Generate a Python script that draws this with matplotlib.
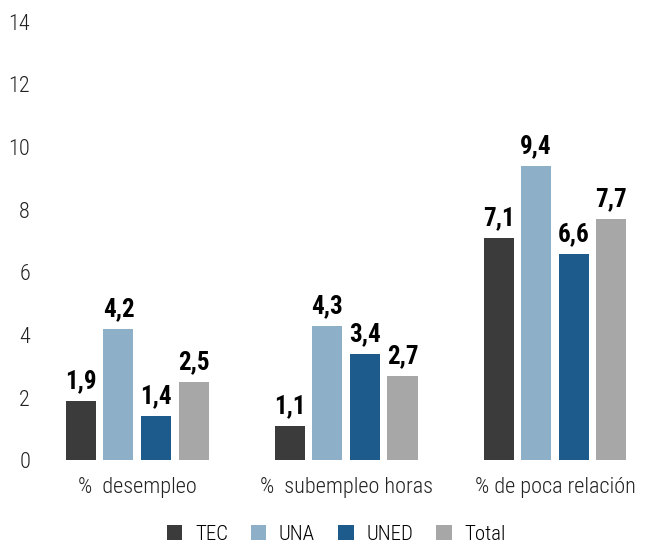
import matplotlib
matplotlib.use('Agg')
import matplotlib.pyplot as plt
from matplotlib import font_manager
import numpy as np

installed = {f.name for f in font_manager.fontManager.ttflist}
choices = [f for f in ['Roboto Condensed', 'Liberation Sans Narrow', 'Roboto'] if f in installed]
plt.rcParams['font.family'] = choices + ['DejaVu Sans']
plt.rcParams['font.weight'] = 'light'

categories = ['%  desempleo', '%  subempleo horas', '% de poca relación']
series = ['TEC', 'UNA', 'UNED', 'Total']
values = {
    'TEC': [1.9, 1.1, 7.1],
    'UNA': [4.2, 4.3, 9.4],
    'UNED': [1.4, 3.4, 6.6],
    'Total': [2.5, 2.7, 7.7],
}
colors = ['#3b3b3b', '#8dafc8', '#1c5b8b', '#a7a7a7']

fig = plt.figure(figsize=(6.48, 5.44), dpi=100)
ax = fig.add_axes([0.07, 0.154, 0.925, 0.806])

x = np.arange(len(categories))
step = 0.18
width = 0.144
for i, s in enumerate(series):
    pos = x + (i - 1.5) * step
    bars = ax.bar(pos, values[s], width, color=colors[i], label=s)
    for b, v in zip(bars, values[s]):
        ax.text(b.get_x() + b.get_width() / 2, v + 0.25, f'{v:.1f}'.replace('.', ','),
                ha='center', va='bottom', fontsize=18, fontweight='bold')

ax.set_ylim(0, 14)
ax.set_yticks(range(0, 15, 2))
ax.set_xlim(-0.44, 2.43)
ax.set_xticks(x)
ax.set_xticklabels(categories)
ax.tick_params(axis='both', length=0, labelsize=16, colors='#222222')
ax.tick_params(axis='y', pad=11)
ax.tick_params(axis='x', pad=12)
for sp in ax.spines.values():
    sp.set_visible(False)

ax.legend(loc='upper center', bbox_to_anchor=(0.485, -0.104), ncol=4, frameon=False,
          fontsize=15, handlelength=0.75, handleheight=0.75, columnspacing=1.1,
          handletextpad=0.6)

fig.savefig('out.png', dpi=100)
